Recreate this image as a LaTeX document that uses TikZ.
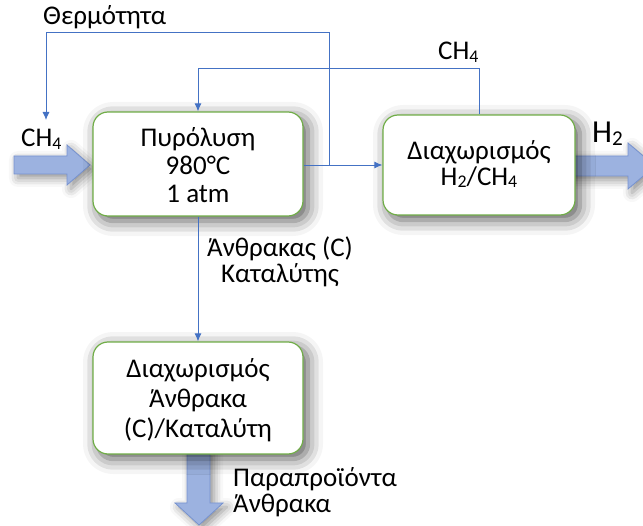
\documentclass[tikz,border=0pt]{standalone}
\usepackage{fontspec}
\setmainfont{Carlito}
\usetikzlibrary{arrows.meta,shadows.blur}

\definecolor{boxgreen}{HTML}{70AD47}
\definecolor{linkblue}{HTML}{4472C4}
\definecolor{fatfill}{HTML}{9CB2E0}
\definecolor{fatedge}{HTML}{7692CF}

% small digit used for chemical formulas (CH4, H2)
\newcommand{\idx}[1]{\raisebox{-0.08em}{\scalebox{0.66}{#1}}}
% centred block of lines, lowered by #1 without changing its reported size
\newcommand{\boxlines}[2]{\raisebox{#1}[\height][\depth]{\begin{tabular}{@{}c@{}}#2\end{tabular}}}

\tikzset{
  procbox/.style={draw=boxgreen, line width=1.2pt, fill=white, rounded corners=15pt,
    inner sep=0pt,
    blur shadow={shadow xshift=5pt, shadow yshift=-5pt, shadow blur radius=15pt, shadow opacity=65}},
  conn/.style={draw=linkblue, line width=0.9pt},
  tip/.style={-{Latex[length=8pt,width=7pt]}},
  lbl/.style={inner sep=0pt, font=\fontsize{27}{26}\selectfont},
  fatarrow/.style={fill=fatfill, draw=fatedge, line width=0.8pt,
    blur shadow={shadow xshift=4pt, shadow yshift=-4pt, shadow blur radius=9pt, shadow opacity=45}}
}

\begin{document}
\begin{tikzpicture}[x=1pt, y=-1pt]
\useasboundingbox (0,0) rectangle (643,526);

% wide process arrows (drawn first so the boxes overlap their shafts)
\fill[fatarrow] (14,156) -- (67,156) -- (67,145) -- (90,165) -- (67,185) -- (67,174) -- (14,174) -- cycle;
\fill[fatarrow] (570,156) -- (628,156) -- (628,143) -- (655,166) -- (628,189) -- (628,176) -- (570,176) -- cycle;
\fill[fatarrow] (187,450) -- (210,450) -- (210,503) -- (223,503) -- (199,525) -- (175,503) -- (187,503) -- cycle;

% process units
\node[procbox, minimum width=210pt, minimum height=104pt, font=\fontsize{27}{28}\selectfont] (pyro) at (198,164)
  {\boxlines{-5.4pt}{Πυρόλυση\\980°C\\1 atm}};
\node[procbox, minimum width=192pt, minimum height=100pt, font=\fontsize{27}{26}\selectfont] (sepgas) at (479,165)
  {\boxlines{-1.8pt}{Διαχωρισμός\\H\idx{2}/CH\idx{4}}};
\node[procbox, minimum width=210pt, minimum height=112pt, font=\fontsize{27}{30}\selectfont] (sepcoal) at (198,398)
  {\boxlines{-4pt}{Διαχωρισμός\\Άνθρακα\\(C)/Καταλύτη}};

% helper points of the connector routes
\coordinate (split) at (329,165);
\coordinate (heattop) at (329,32);
\coordinate (heatin) at (46,120);
\coordinate (recyc) at (479,68);

% connectors
\draw[conn, tip] (pyro.east |- split) -- (sepgas.west |- split);
\draw[conn, tip] (split) -- (heattop) -| (heatin);
\draw[conn, tip] (sepgas.north) -- (recyc) -| (pyro.north);
\draw[conn, tip] (pyro.south) -- (sepcoal.north);

% stream labels
\node[lbl, anchor=base west] (heatlbl) at (43,25) {Θερμότητα};
\node[lbl, anchor=base west] (recyclbl) at (438,60) {CH\idx{4}};
\node[lbl, anchor=base west] (feedlbl) at (21,147) {CH\idx{4}};
\node[inner sep=0pt, anchor=base west, font=\fontsize{32}{32}\selectfont] (prodlbl) at (592,143) {H\idx{2}};
\node[lbl, align=center, anchor=base] (solidlbl) at (280,283)
  {Άνθρακας (C)\\Καταλύτης};
\node[lbl, align=left, anchor=base west] (bylbl) at (233,513)
  {Παραπροϊόντα\\Άνθρακα};
\end{tikzpicture}
\end{document}
